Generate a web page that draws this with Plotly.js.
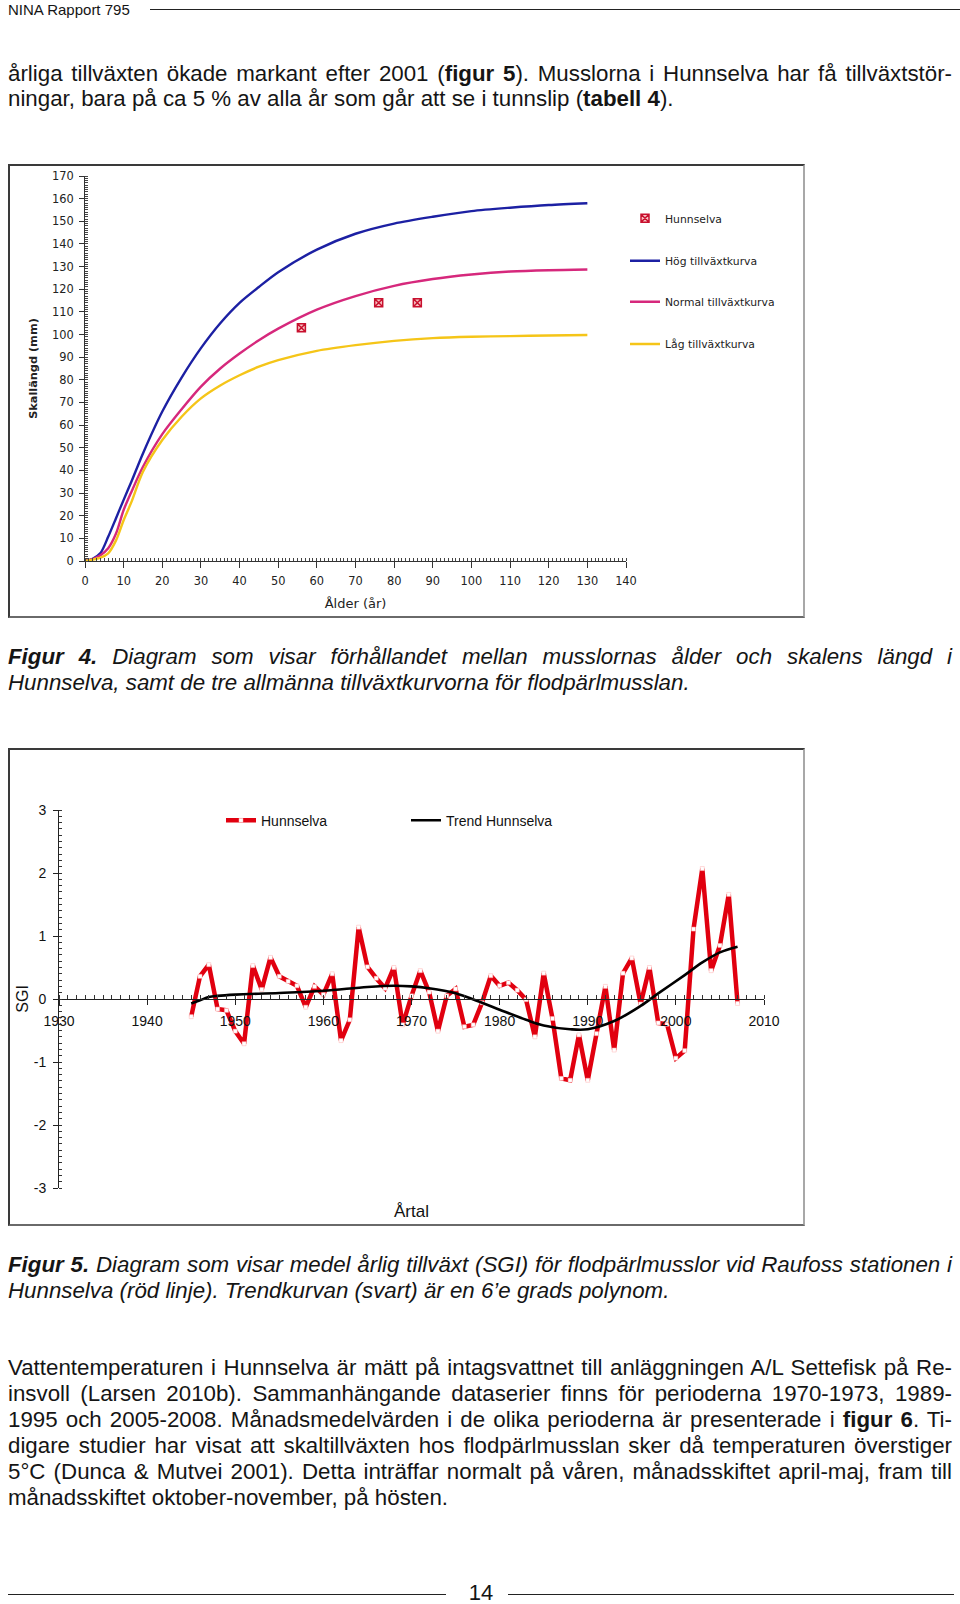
<!DOCTYPE html>
<html><head><meta charset="utf-8">
<script src="https://cdn.plot.ly/plotly-3.0.1.min.js"></script>
<style>
html,body{margin:0;padding:0;background:#fff;}
body{width:960px;height:1604px;position:relative;overflow:hidden;font-family:"Liberation Sans",Arial,sans-serif;color:#151515;}
.ln{position:absolute;left:8px;width:944px;height:26px;line-height:26px;font-size:22.3px;white-space:nowrap;}
.it{font-style:italic;}
.box{position:absolute;box-sizing:border-box;border:2px solid #3a3a3a;border-right-color:#a8a8a8;border-bottom-color:#6a6a6a;}
.plot{position:absolute;}
.rule{position:absolute;height:1px;background:#222;}
</style></head>
<body>
<div style="position:absolute;left:8px;top:1px;height:17px;line-height:17px;font-size:15px;">NINA Rapport 795</div>
<div class="rule" style="left:150px;top:9px;width:810px;"></div>

<div class="ln j" style="top:60.7px;"><span>årliga tillväxten ökade markant efter 2001 (<b>figur 5</b>). Musslorna i Hunnselva har få tillväxtstör-</span></div>
<div class="ln" style="top:86.3px;"><span>ningar, bara på ca 5 % av alla år som går att se i tunnslip (<b>tabell 4</b>).</span></div>

<div class="box" style="left:8px;top:164px;width:797px;height:454px;"></div>
<div id="chart1" class="plot" style="left:8px;top:164px;width:797px;height:454px;"></div>

<div class="ln j it" style="top:644px;"><span><b>Figur 4.</b> Diagram som visar förhållandet mellan musslornas ålder och skalens längd i</span></div>
<div class="ln it" style="top:669.7px;"><span>Hunnselva, samt de tre allmänna tillväxtkurvorna för flodpärlmusslan.</span></div>

<div class="box" style="left:8px;top:748px;width:797px;height:478px;"></div>
<div id="chart2" class="plot" style="left:8px;top:748px;width:797px;height:478px;"></div>

<div class="ln j it" style="top:1252px;"><span><b>Figur 5.</b> Diagram som visar medel årlig tillväxt (SGI) för flodpärlmusslor vid Raufoss stationen i</span></div>
<div class="ln it" style="top:1277.6px;"><span>Hunnselva (röd linje). Trendkurvan (svart) är en 6’e grads polynom.</span></div>

<div class="ln j" style="top:1355.4px;"><span>Vattentemperaturen i Hunnselva är mätt på intagsvattnet till anläggningen A/L Settefisk på Re-</span></div>
<div class="ln j" style="top:1381px;"><span>insvoll (Larsen 2010b). Sammanhängande dataserier finns för perioderna 1970-1973, 1989-</span></div>
<div class="ln j" style="top:1406.6px;"><span>1995 och 2005-2008. Månadsmedelvärden i de olika perioderna är presenterade i <b>figur 6</b>. Ti-</span></div>
<div class="ln j" style="top:1433.2px;"><span>digare studier har visat att skaltillväxten hos flodpärlmusslan sker då temperaturen överstiger</span></div>
<div class="ln j" style="top:1458.8px;"><span>5°C (Dunca &amp; Mutvei 2001). Detta inträffar normalt på våren, månadsskiftet april-maj, fram till</span></div>
<div class="ln" style="top:1485.4px;"><span>månadsskiftet oktober-november, på hösten.</span></div>

<div class="rule" style="left:8px;top:1594px;width:438px;"></div>
<div style="position:absolute;left:461px;top:1580px;width:40px;text-align:center;font-size:22px;line-height:26px;">14</div>
<div class="rule" style="left:508px;top:1594px;width:446px;"></div>

<script>
// ---------- Figur 4 data ----------
const ages = [0,2,4,6,8,10,12,15,20,25,30,35,40,45,50,60,70,80,90,100,110,120,130];
const hogKurva = [0,1,3.5,10.7,18.8,27,35,47.5,66,81,94,105,114,121,127.5,137.5,144.5,149,152,154.5,156,157.2,158];
const normalKurva = [0,0.8,2.5,5.6,12,22.5,30.5,41.6,56,67,77,85,91.6,97.5,102.6,111,117,121.5,124.5,126.5,127.8,128.4,128.7];
const lagKurva = [0,0.6,1.5,3.4,9,18,26,39.4,53.4,63.7,71.8,77.5,82,85.8,88.7,92.8,95.3,97.2,98.4,99,99.3,99.6,99.8];
const hunnAlder = [56,76,86];
const hunnLangd = [103,114,114];
const legendNames1 = ['Hunnselva','Hög tillväxtkurva','Normal tillväxtkurva','Låg tillväxtkurva'];

// ---------- Figur 5 data ----------
const years = [1945,1946,1947,1948,1949,1950,1951,1952,1953,1954,1955,1956,1957,1958,1959,1960,1961,1962,1963,1964,1965,1966,1967,1968,1969,1970,1971,1972,1973,1974,1975,1976,1977,1978,1979,1980,1981,1982,1983,1984,1985,1986,1987,1988,1989,1990,1991,1992,1993,1994,1995,1996,1997,1998,1999,2000,2001,2002,2003,2004,2005,2006,2007];
const sgi = [-0.28,0.36,0.545,-0.16,-0.18,-0.51,-0.71,0.53,0.15,0.66,0.36,0.28,0.21,-0.13,0.20,0.07,0.40,-0.66,-0.33,1.14,0.51,0.33,0.17,0.50,-0.41,0.05,0.45,0.11,-0.51,0.05,0.16,-0.44,-0.41,-0.06,0.37,0.21,0.26,0.14,-0.01,-0.60,0.41,-0.31,-1.26,-1.29,-0.57,-1.29,-0.55,0.20,-0.81,0.41,0.65,-0.08,0.50,-0.38,-0.40,-0.94,-0.82,1.11,2.07,0.45,0.85,1.66,-0.07];
const trendYears = [1945,1946,1947,1948,1950,1955,1960,1965,1968,1970,1972,1975,1978,1980,1983,1985,1988,1990,1993,1996,1998,2001,2003,2005,2007];
const trendSgi = [-0.07,-0.02,0.03,0.05,0.07,0.095,0.13,0.19,0.21,0.20,0.17,0.09,-0.06,-0.17,-0.33,-0.42,-0.48,-0.48,-0.35,-0.11,0.09,0.38,0.58,0.74,0.83];
const xTicks2 = [1930,1940,1950,1960,1970,1980,1990,2000,2010];
const yTicks2 = [-3,-2,-1,0,1,2,3];

const W1 = 797, H1 = 454;
function legY(pageY, top, h){ return 1 - (pageY - top)/h; }
const legFont1 = {family:'DejaVu Sans', size:10.8, color:'#222'};
function leg1(pageY){ return {xref:'container', yref:'container', x:617/W1, y:legY(pageY,164,H1), xanchor:'left', yanchor:'middle', bgcolor:'rgba(0,0,0,0)', borderwidth:0, font:legFont1}; }

Plotly.newPlot('chart1', [
  {x:hunnAlder, y:hunnLangd, name:legendNames1[0], mode:'markers', legend:'legend',
   marker:{symbol:'square-x', size:8, color:'#f7c4c4', line:{color:'#c8102e', width:1.5}}},
  {x:ages, y:hogKurva, name:legendNames1[1], mode:'lines', legend:'legend2',
   line:{color:'#1c20a3', width:2.4, shape:'spline', smoothing:0.8}},
  {x:ages, y:normalKurva, name:legendNames1[2], mode:'lines', legend:'legend3',
   line:{color:'#d6287c', width:2.4, shape:'spline', smoothing:0.8}},
  {x:ages, y:lagKurva, name:legendNames1[3], mode:'lines', legend:'legend4',
   line:{color:'#f5c518', width:2.4, shape:'spline', smoothing:0.8}}
], {
  width:W1, height:H1,
  margin:{l:77, r:179, t:12, b:57, autoexpand:false},
  paper_bgcolor:'rgba(0,0,0,0)', plot_bgcolor:'rgba(0,0,0,0)',
  showlegend:true,
  legend:leg1(218.3), legend2:leg1(260.7), legend3:leg1(301.7), legend4:leg1(344),
  xaxis:{range:[0,140], dtick:10, tick0:0, showgrid:false, zeroline:false, showline:true, linecolor:'#333', linewidth:1,
    ticks:'outside', ticklen:6, tickcolor:'#333', ticklabelstandoff:3, tickfont:{family:'DejaVu Sans', size:11.4, color:'#222'},
    minor:{dtick:1, ticks:'inside', ticklen:3, tickcolor:'#444', showgrid:false},
    title:{text:'Ålder (år)', font:{family:'DejaVu Sans', size:13, color:'#222'}, standoff:12}},
  yaxis:{range:[0,170], dtick:10, tick0:0, showgrid:false, zeroline:false, showline:true, linecolor:'#333', linewidth:1,
    ticks:'outside', ticklen:5, tickcolor:'#333', ticklabelstandoff:3, tickfont:{family:'DejaVu Sans', size:11.4, color:'#222'},
    minor:{dtick:1, ticks:'inside', ticklen:3, tickcolor:'#444', showgrid:false},
    title:{text:'<b>Skallängd (mm)</b>', font:{family:'DejaVu Sans', size:11.3, color:'#222'}, standoff:12}}
}, {staticPlot:true, displayModeBar:false});

const W2 = 797, H2 = 478;
const ML2 = 51, MR2 = 41;
const legFont2 = {family:'Liberation Sans', size:14, color:'#111'};
function leg2(xpx){ return {xref:'container', yref:'container', x:xpx/W2, y:legY(820.7,748,H2), xanchor:'left', yanchor:'middle', bgcolor:'rgba(0,0,0,0)', borderwidth:0, font:legFont2}; }

Plotly.newPlot('chart2', [
  {x:years, y:sgi, name:'Hunnselva', mode:'lines+markers', legend:'legend',
   line:{color:'#e1000f', width:4.5},
   marker:{symbol:'square', size:4, color:'#ffffff', line:{color:'#ffb3b3', width:0.5}}},
  {x:trendYears, y:trendSgi, name:'Trend Hunnselva', mode:'lines', legend:'legend2',
   line:{color:'#000000', width:2.6, shape:'spline', smoothing:1}}
], {
  width:W2, height:H2,
  margin:{l:ML2, r:MR2, t:62, b:38, autoexpand:false},
  paper_bgcolor:'rgba(0,0,0,0)', plot_bgcolor:'rgba(0,0,0,0)',
  showlegend:true,
  legend:leg2(213), legend2:leg2(398),
  xaxis:{range:[1930,2010], domain:[0,1], tickvals:xTicks2, ticktext:xTicks2.map(String), anchor:'free', position:0.5, side:'bottom',
    showgrid:false, zeroline:false, showline:true, linecolor:'#222', linewidth:1,
    ticks:'outside', ticklen:5, tickcolor:'#222', ticklabelstandoff:4, tickangle:0,
    tickfont:{family:'Liberation Sans', size:14, color:'#111'},
    minor:{dtick:1, tick0:1930, ticks:'inside', ticklen:4, tickcolor:'#333', showgrid:false}},
  yaxis:{range:[-3,3], domain:[0,1], anchor:'x', tickvals:yTicks2, ticktext:yTicks2.map(String), showgrid:false, zeroline:false, showline:true,
    linecolor:'#222', linewidth:1, ticks:'outside', ticklen:5, tickcolor:'#222', ticklabelstandoff:4,
    tickfont:{family:'Liberation Sans', size:14, color:'#111'},
    minor:{dtick:0.1, tick0:0, ticks:'inside', ticklen:3, tickcolor:'#333', showgrid:false}},
  annotations:[
    {text:'Årtal', xref:'paper', yref:'paper', x:0.5, y:0, yshift:-23.7, xanchor:'center', yanchor:'middle',
     showarrow:false, font:{family:'Liberation Sans', size:17, color:'#111'}},
    {text:'SGI', xref:'paper', yref:'paper', x:(13.7-ML2)/(W2-ML2-MR2), y:0.5, xanchor:'center', yanchor:'middle', textangle:-90,
     showarrow:false, font:{family:'Liberation Sans', size:16, color:'#111'}}
  ]
}, {staticPlot:true, displayModeBar:false});

function justify(){
  document.querySelectorAll('.ln.j').forEach(el=>{
    el.style.wordSpacing='0px';
    const sp = el.querySelector('span');
    const w = sp.getBoundingClientRect().width;
    const n = (sp.textContent.match(/ /g)||[]).length;
    const Wd = el.clientWidth;
    if(n>0) el.style.wordSpacing = ((Wd - w)/n) + 'px';
  });
}
justify();
if(document.fonts && document.fonts.ready) document.fonts.ready.then(justify);
</script>
</body></html>
